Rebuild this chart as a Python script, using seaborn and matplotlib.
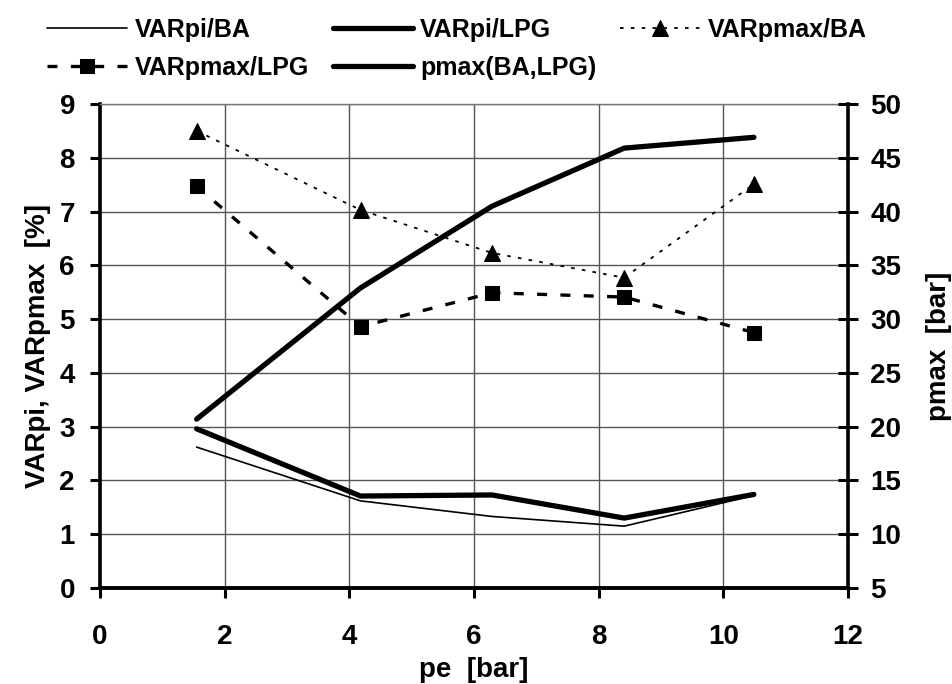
import matplotlib
matplotlib.use("Agg")
import matplotlib.pyplot as plt
import seaborn as sns
import pandas as pd

# Mean effective pressure points [bar]
pe = [1.55, 4.18, 6.29, 8.41, 10.49]

# Cycle-to-cycle variation coefficients [%]
varpi_ba = [2.62, 1.62, 1.33, 1.15, 1.72]
varpi_lpg = [2.96, 1.71, 1.73, 1.30, 1.74]
varpmax_ba = [8.50, 7.03, 6.23, 5.77, 7.51]
varpmax_lpg = [7.47, 4.86, 5.49, 5.41, 4.75]

# Peak cylinder pressure [bar]
pmax = [20.7, 32.9, 40.5, 45.9, 46.9]

labels = ["VARpi/BA", "VARpi/LPG", "VARpmax/BA", "VARpmax/LPG", "pmax(BA,LPG)"]

sns.set_style("white")
plt.rcParams["font.family"] = ["Liberation Sans", "DejaVu Sans"]
plt.rcParams["font.weight"] = "bold"
plt.rcParams["axes.labelweight"] = "bold"
plt.rcParams["text.color"] = "black"
plt.rcParams["axes.labelcolor"] = "black"
plt.rcParams["xtick.color"] = "black"
plt.rcParams["ytick.color"] = "black"

df = pd.DataFrame({
    "pe": pe,
    labels[0]: varpi_ba,
    labels[1]: varpi_lpg,
    labels[2]: varpmax_ba,
    labels[3]: varpmax_lpg,
    labels[4]: pmax,
})

W, H = 953, 684
fig = plt.figure(figsize=(W / 100, H / 100), dpi=100)
ax = fig.add_axes([100 / W, 1 - 588 / H, 748 / W, 484 / H])
ax2 = ax.twinx()

# Left axis series
sns.lineplot(data=df, x="pe", y=labels[0], ax=ax, color="black", lw=1.2,
             label=labels[0], legend=False)
sns.lineplot(data=df, x="pe", y=labels[1], ax=ax, color="black", lw=3.8,
             solid_capstyle="round", label=labels[1], legend=False)
sns.lineplot(data=df, x="pe", y=labels[2], ax=ax, color="black", lw=1.3,
             linestyle=(0, (2, 4)), marker="^", markersize=12,
             markeredgecolor="black", label=labels[2], legend=False)
sns.lineplot(data=df, x="pe", y=labels[3], ax=ax, color="black", lw=2.4,
             linestyle=(0, (3, 4)), marker="s", markersize=10,
             markeredgecolor="black", label=labels[3], legend=False)

# Right axis series
sns.lineplot(data=df, x="pe", y=labels[4], ax=ax2, color="black", lw=3.8,
             solid_capstyle="round", label=labels[4], legend=False)

ax.set_xlim(0, 12)
ax.set_ylim(0, 9)
ax2.set_ylim(5, 50)
ax.set_xticks(range(0, 13, 2))
ax.set_yticks(range(0, 10))
ax2.set_yticks(range(5, 51, 5))

ax.grid(True, color="#555555", lw=1.0)
ax2.grid(False)
ax.set_axisbelow(True)

for a in (ax, ax2):
    for s in a.spines.values():
        s.set_visible(False)
ax.spines["left"].set_visible(True)
ax.spines["left"].set_linewidth(2.6)
ax.spines["left"].set_color("black")
ax.spines["bottom"].set_visible(True)
ax.spines["bottom"].set_linewidth(2.8)
ax.spines["bottom"].set_color("black")
ax.spines["top"].set_visible(True)
ax.spines["top"].set_linewidth(1.0)
ax.spines["top"].set_color("#777777")
ax2.spines["right"].set_visible(True)
ax2.spines["right"].set_linewidth(2.6)
ax2.spines["right"].set_color("black")

ax.tick_params(axis="y", direction="out", length=7, width=2.2, pad=11,
               labelsize=20, left=True, right=False, colors="black")
ax.tick_params(axis="x", direction="out", length=7, width=2.2, pad=19,
               labelsize=20, bottom=True, colors="black")
ax2.tick_params(axis="y", direction="inout", length=14, width=2.2, pad=9,
                labelsize=20, right=True, colors="black")

for t in ax.get_xticklabels() + ax.get_yticklabels() + ax2.get_yticklabels():
    t.set_fontweight("bold")

ax.set_xlabel("pe  [bar]", fontsize=20, fontweight="bold", labelpad=5,
              color="black")
ax.set_ylabel("VARpi, VARpmax  [%]", fontsize=20, fontweight="bold",
              labelpad=6, color="black")
ax2.set_ylabel("pmax  [bar]", fontsize=20, fontweight="bold", labelpad=18,
               color="black")

# Legend in two rows, filled row by row
h1, l1 = ax.get_legend_handles_labels()
h2, l2 = ax2.get_legend_handles_labels()
hmap = dict(zip(l1 + l2, h1 + h2))
order = [labels[0], labels[3], labels[1], labels[4], labels[2]]
leg = fig.legend([hmap[k] for k in order], order, ncol=3,
                 loc="upper left", bbox_to_anchor=(47 / W, 1 - 18 / H),
                 frameon=False, prop={"weight": "bold", "size": 18},
                 handlelength=3.2, handletextpad=0.3, columnspacing=0.95,
                 labelspacing=0.55, borderpad=0, borderaxespad=0)
for t in leg.get_texts():
    t.set_color("black")

fig.savefig("out.png", dpi=100)
